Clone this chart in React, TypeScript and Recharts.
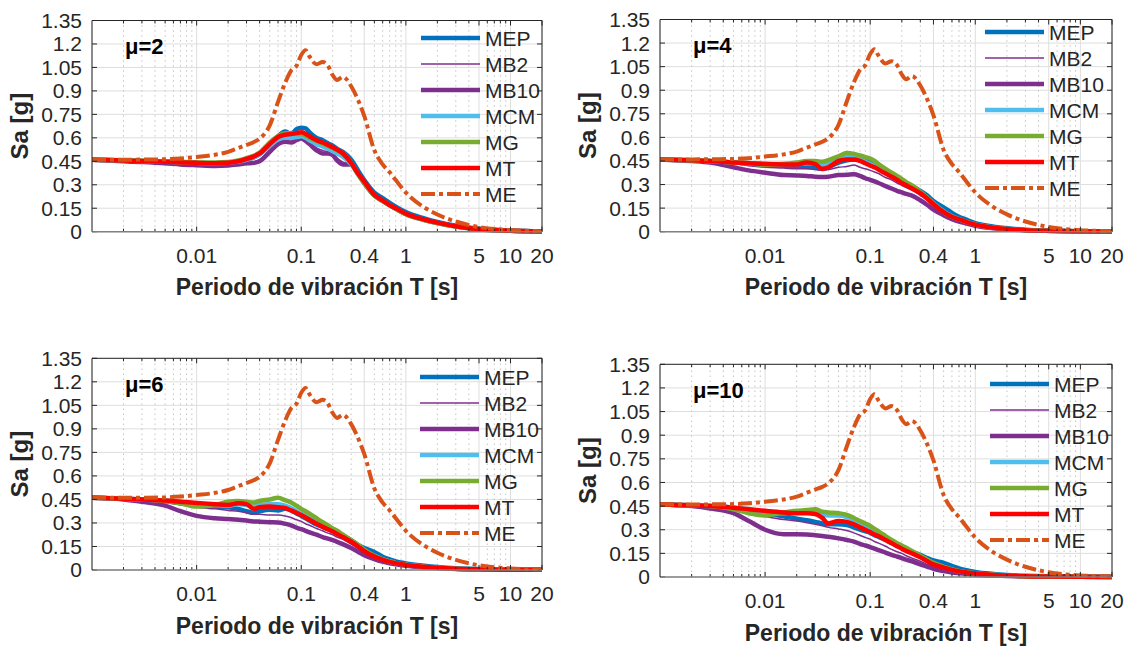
import React from 'react';
import { LineChart, Line, XAxis, YAxis, CartesianGrid, ReferenceLine, Legend } from 'recharts';

// ---------- data ----------
const periods = [0.001, 0.002, 0.003, 0.005, 0.007, 0.01, 0.015, 0.02, 0.025, 0.03, 0.035, 0.04, 0.05, 0.06, 0.07, 0.08, 0.09, 0.1, 0.11, 0.12, 0.14, 0.16, 0.18, 0.2, 0.22, 0.25, 0.3, 0.35, 0.4, 0.5, 0.6, 0.7, 0.8, 1, 1.5, 2, 3, 5, 10, 20];

const xTicks = [0.01, 0.1, 0.4, 1, 5, 10, 20];
const xTickLabels = ['0.01', '0.1', '0.4', '1', '5', '10', '20'];
const minorX = [0.002, 0.003, 0.004, 0.005, 0.006, 0.007, 0.008, 0.009, 0.02, 0.03, 0.04, 0.05, 0.06, 0.07, 0.08, 0.09, 0.2, 0.3, 0.5, 0.6, 0.7, 0.8, 0.9, 2, 3, 4, 6, 7, 8, 9];
const yTicks = [0, 0.15, 0.3, 0.45, 0.6, 0.75, 0.9, 1.05, 1.2, 1.35];
const yTickLabels = ['0', '0.15', '0.3', '0.45', '0.6', '0.75', '0.9', '1.05', '1.2', '1.35'];

const seriesNames = ['MEP', 'MB2', 'MB10', 'MCM', 'MG', 'MT', 'ME'];
const muLabels = ['μ=2', 'μ=4', 'μ=6', 'μ=10'];

const ME = [0.46, 0.46, 0.461, 0.463, 0.468, 0.478, 0.492, 0.51, 0.535, 0.555, 0.572, 0.595, 0.68, 0.83, 0.95, 1.03, 1.06, 1.13, 1.16, 1.12, 1.07, 1.085, 1.06, 1.0, 0.97, 0.99, 0.93, 0.84, 0.74, 0.52, 0.43, 0.38, 0.33, 0.25, 0.155, 0.11, 0.065, 0.03, 0.01, 0.003];

// mu = 2
const mu2MEP = [0.46, 0.455, 0.452, 0.447, 0.443, 0.44, 0.438, 0.44, 0.448, 0.46, 0.475, 0.495, 0.555, 0.61, 0.64, 0.625, 0.655, 0.665, 0.66, 0.635, 0.6, 0.585, 0.565, 0.55, 0.53, 0.51, 0.46, 0.39, 0.33, 0.25, 0.215, 0.185, 0.16, 0.125, 0.085, 0.062, 0.038, 0.019, 0.007, 0.002];
const mu2MB2 = [0.46, 0.452, 0.446, 0.44, 0.435, 0.43, 0.428, 0.43, 0.435, 0.44, 0.445, 0.46, 0.52, 0.565, 0.58, 0.575, 0.595, 0.6, 0.59, 0.57, 0.535, 0.52, 0.51, 0.5, 0.47, 0.445, 0.43, 0.36, 0.31, 0.235, 0.2, 0.17, 0.148, 0.113, 0.076, 0.056, 0.034, 0.016, 0.006, 0.002];
const mu2MB10 = [0.46, 0.45, 0.445, 0.437, 0.43, 0.425, 0.42, 0.423, 0.43, 0.437, 0.44, 0.45, 0.51, 0.56, 0.575, 0.57, 0.585, 0.595, 0.58, 0.56, 0.52, 0.5, 0.5, 0.49, 0.455, 0.43, 0.43, 0.37, 0.31, 0.235, 0.2, 0.17, 0.148, 0.113, 0.076, 0.056, 0.034, 0.016, 0.006, 0.002];
const mu2MCM = [0.46, 0.455, 0.452, 0.447, 0.443, 0.44, 0.438, 0.44, 0.448, 0.46, 0.475, 0.495, 0.55, 0.59, 0.6, 0.6, 0.605, 0.61, 0.6, 0.585, 0.56, 0.545, 0.53, 0.515, 0.5, 0.48, 0.43, 0.365, 0.31, 0.23, 0.195, 0.168, 0.146, 0.112, 0.075, 0.055, 0.033, 0.016, 0.006, 0.002];
const mu2MG = [0.46, 0.456, 0.453, 0.449, 0.446, 0.443, 0.442, 0.445, 0.455, 0.47, 0.485, 0.505, 0.57, 0.61, 0.63, 0.63, 0.625, 0.625, 0.615, 0.6, 0.58, 0.565, 0.55, 0.535, 0.52, 0.5, 0.44, 0.365, 0.31, 0.23, 0.195, 0.168, 0.146, 0.112, 0.075, 0.055, 0.033, 0.016, 0.006, 0.002];
const mu2MT = [0.46, 0.455, 0.452, 0.447, 0.443, 0.44, 0.438, 0.44, 0.45, 0.465, 0.48, 0.5, 0.56, 0.605, 0.62, 0.625, 0.63, 0.635, 0.625, 0.61, 0.585, 0.57, 0.555, 0.54, 0.525, 0.5, 0.44, 0.37, 0.32, 0.235, 0.2, 0.17, 0.15, 0.115, 0.078, 0.058, 0.035, 0.017, 0.006, 0.002];

// mu = 4
const mu4MEP = [0.46, 0.455, 0.45, 0.44, 0.435, 0.43, 0.42, 0.415, 0.412, 0.41, 0.4, 0.41, 0.44, 0.455, 0.46, 0.455, 0.45, 0.44, 0.425, 0.41, 0.38, 0.36, 0.34, 0.32, 0.305, 0.29, 0.26, 0.23, 0.195, 0.155, 0.12, 0.095, 0.08, 0.055, 0.032, 0.022, 0.013, 0.007, 0.003, 0.001];
const mu4MB2 = [0.46, 0.455, 0.45, 0.435, 0.42, 0.41, 0.405, 0.4, 0.4, 0.395, 0.39, 0.395, 0.41, 0.415, 0.425, 0.41, 0.4, 0.39, 0.38, 0.37, 0.345, 0.33, 0.31, 0.295, 0.28, 0.265, 0.23, 0.2, 0.16, 0.115, 0.09, 0.072, 0.06, 0.042, 0.024, 0.017, 0.01, 0.005, 0.002, 0.001];
const mu4MB10 = [0.46, 0.45, 0.44, 0.41, 0.39, 0.375, 0.36, 0.358, 0.355, 0.35, 0.348, 0.35, 0.36, 0.362, 0.365, 0.355, 0.34, 0.33, 0.32, 0.31, 0.29, 0.275, 0.26, 0.25, 0.24, 0.23, 0.2, 0.17, 0.14, 0.105, 0.08, 0.065, 0.055, 0.038, 0.022, 0.015, 0.009, 0.005, 0.002, 0.001];
const mu4MCM = [0.46, 0.455, 0.45, 0.44, 0.435, 0.43, 0.43, 0.43, 0.435, 0.435, 0.42, 0.43, 0.465, 0.475, 0.47, 0.46, 0.445, 0.43, 0.42, 0.405, 0.38, 0.36, 0.335, 0.315, 0.3, 0.285, 0.25, 0.215, 0.18, 0.13, 0.098, 0.08, 0.066, 0.046, 0.026, 0.018, 0.01, 0.006, 0.003, 0.001];
const mu4MG = [0.46, 0.455, 0.45, 0.44, 0.435, 0.425, 0.43, 0.44, 0.45, 0.45, 0.445, 0.455, 0.48, 0.5, 0.495, 0.485, 0.475, 0.465, 0.45, 0.43, 0.4, 0.375, 0.355, 0.335, 0.315, 0.295, 0.255, 0.215, 0.18, 0.125, 0.095, 0.078, 0.065, 0.045, 0.025, 0.018, 0.01, 0.006, 0.003, 0.001];
const mu4MT = [0.46, 0.455, 0.45, 0.44, 0.435, 0.43, 0.428, 0.428, 0.44, 0.43, 0.4, 0.41, 0.45, 0.46, 0.46, 0.45, 0.435, 0.42, 0.41, 0.395, 0.37, 0.35, 0.33, 0.31, 0.295, 0.275, 0.245, 0.21, 0.175, 0.125, 0.095, 0.078, 0.065, 0.045, 0.025, 0.018, 0.01, 0.006, 0.003, 0.001];

// mu = 6
const mu6MEP = [0.46, 0.455, 0.45, 0.44, 0.43, 0.415, 0.405, 0.4, 0.39, 0.375, 0.365, 0.375, 0.385, 0.38, 0.39, 0.38, 0.36, 0.345, 0.33, 0.315, 0.29, 0.275, 0.26, 0.25, 0.235, 0.22, 0.19, 0.16, 0.14, 0.115, 0.085, 0.068, 0.055, 0.042, 0.027, 0.019, 0.011, 0.006, 0.003, 0.001];
const mu6MB2 = [0.46, 0.452, 0.445, 0.43, 0.415, 0.4, 0.39, 0.38, 0.375, 0.365, 0.355, 0.355, 0.35, 0.35, 0.345, 0.335, 0.32, 0.31, 0.295, 0.285, 0.265, 0.25, 0.235, 0.225, 0.21, 0.195, 0.165, 0.135, 0.11, 0.08, 0.06, 0.048, 0.04, 0.03, 0.018, 0.013, 0.007, 0.004, 0.002, 0.001];
const mu6MB10 = [0.46, 0.45, 0.435, 0.41, 0.375, 0.345, 0.33, 0.325, 0.32, 0.315, 0.31, 0.308, 0.305, 0.303, 0.295, 0.285, 0.27, 0.26, 0.25, 0.24, 0.225, 0.21, 0.2, 0.19, 0.18, 0.165, 0.14, 0.115, 0.095, 0.07, 0.053, 0.043, 0.036, 0.027, 0.017, 0.012, 0.007, 0.004, 0.002, 0.001];
const mu6MCM = [0.46, 0.455, 0.45, 0.443, 0.435, 0.42, 0.415, 0.41, 0.42, 0.415, 0.405, 0.415, 0.42, 0.42, 0.41, 0.395, 0.375, 0.36, 0.345, 0.33, 0.3, 0.28, 0.265, 0.25, 0.235, 0.215, 0.185, 0.155, 0.125, 0.09, 0.068, 0.054, 0.044, 0.033, 0.021, 0.015, 0.008, 0.004, 0.002, 0.001];
const mu6MG = [0.46, 0.455, 0.45, 0.44, 0.425, 0.405, 0.415, 0.435, 0.44, 0.435, 0.43, 0.44, 0.45, 0.46, 0.445, 0.43, 0.41, 0.39, 0.375, 0.36, 0.33, 0.305, 0.285, 0.265, 0.25, 0.225, 0.19, 0.16, 0.13, 0.09, 0.068, 0.054, 0.044, 0.033, 0.021, 0.015, 0.008, 0.004, 0.002, 0.001];
const mu6MT = [0.46, 0.455, 0.45, 0.443, 0.435, 0.428, 0.42, 0.415, 0.425, 0.42, 0.39, 0.4, 0.405, 0.4, 0.395, 0.38, 0.365, 0.35, 0.335, 0.32, 0.295, 0.275, 0.26, 0.245, 0.23, 0.21, 0.18, 0.15, 0.12, 0.085, 0.065, 0.052, 0.043, 0.032, 0.02, 0.014, 0.008, 0.004, 0.002, 0.001];

// mu = 10
const mu10MEP = [0.46, 0.455, 0.45, 0.44, 0.425, 0.405, 0.385, 0.37, 0.36, 0.35, 0.34, 0.335, 0.335, 0.33, 0.315, 0.3, 0.29, 0.28, 0.265, 0.255, 0.235, 0.215, 0.2, 0.185, 0.17, 0.16, 0.14, 0.12, 0.105, 0.09, 0.07, 0.055, 0.045, 0.032, 0.019, 0.013, 0.008, 0.004, 0.002, 0.001];
const mu10MB2 = [0.46, 0.452, 0.445, 0.425, 0.405, 0.385, 0.365, 0.355, 0.345, 0.335, 0.325, 0.315, 0.305, 0.295, 0.28, 0.265, 0.25, 0.24, 0.225, 0.215, 0.195, 0.175, 0.16, 0.15, 0.135, 0.12, 0.1, 0.08, 0.065, 0.048, 0.036, 0.029, 0.024, 0.018, 0.011, 0.008, 0.005, 0.002, 0.001, 0.0005];
const mu10MB10 = [0.46, 0.45, 0.435, 0.405, 0.355, 0.3, 0.272, 0.272, 0.27, 0.265, 0.26, 0.255, 0.245, 0.235, 0.225, 0.21, 0.2, 0.19, 0.18, 0.17, 0.155, 0.14, 0.13, 0.12, 0.11, 0.1, 0.08, 0.065, 0.052, 0.038, 0.029, 0.024, 0.02, 0.015, 0.009, 0.006, 0.004, 0.002, 0.001, 0.0005];
const mu10MCM = [0.46, 0.455, 0.45, 0.44, 0.43, 0.41, 0.405, 0.415, 0.42, 0.41, 0.4, 0.39, 0.39, 0.38, 0.36, 0.34, 0.325, 0.31, 0.295, 0.28, 0.255, 0.23, 0.21, 0.195, 0.18, 0.16, 0.13, 0.105, 0.085, 0.063, 0.047, 0.037, 0.031, 0.023, 0.014, 0.009, 0.005, 0.003, 0.001, 0.0005];
const mu10MG = [0.46, 0.455, 0.45, 0.43, 0.405, 0.39, 0.41, 0.42, 0.425, 0.43, 0.415, 0.41, 0.405, 0.395, 0.375, 0.355, 0.34, 0.325, 0.305, 0.29, 0.26, 0.235, 0.215, 0.2, 0.185, 0.165, 0.135, 0.11, 0.09, 0.065, 0.048, 0.038, 0.031, 0.023, 0.014, 0.009, 0.005, 0.003, 0.001, 0.0005];
const mu10MT = [0.46, 0.455, 0.45, 0.44, 0.43, 0.42, 0.41, 0.405, 0.405, 0.4, 0.375, 0.34, 0.355, 0.35, 0.335, 0.315, 0.3, 0.285, 0.27, 0.26, 0.235, 0.215, 0.195, 0.18, 0.165, 0.15, 0.125, 0.1, 0.08, 0.06, 0.045, 0.036, 0.03, 0.022, 0.013, 0.009, 0.005, 0.003, 0.001, 0.0005];

const panelSeries: Record<string, number[]>[] = [
  { MEP: mu2MEP, MB2: mu2MB2, MB10: mu2MB10, MCM: mu2MCM, MG: mu2MG, MT: mu2MT, ME },
  { MEP: mu4MEP, MB2: mu4MB2, MB10: mu4MB10, MCM: mu4MCM, MG: mu4MG, MT: mu4MT, ME },
  { MEP: mu6MEP, MB2: mu6MB2, MB10: mu6MB10, MCM: mu6MCM, MG: mu6MG, MT: mu6MT, ME },
  { MEP: mu10MEP, MB2: mu10MB2, MB10: mu10MB10, MCM: mu10MCM, MG: mu10MG, MT: mu10MT, ME },
];

// ---------- styles ----------
const FONT = '"Liberation Sans", Arial, Helvetica, sans-serif';
const TXT = '#262626';
const TICK_FS = 21;
const seriesStyle: Record<string, { color: string; width: number; dash?: string }> = {
  MEP: { color: '#0072BD', width: 4.5 },
  MB2: { color: '#7E2F8E', width: 1.5 },
  MB10: { color: '#7E2F8E', width: 4.5 },
  MCM: { color: '#4DBEEE', width: 4.5 },
  MG: { color: '#77AC30', width: 4.5 },
  MT: { color: '#FF0000', width: 4.5 },
  ME: { color: '#D95319', width: 4, dash: '14 4 4 4' },
};

const layouts = [
  { divLeft: 0, divTop: 0, w: 560, h: 320, plotLeft: 92, plotRight: 542, plotTop: 20.5, plotBottom: 231.7, legendDx: -121, legendDy: 17.8 },
  { divLeft: 560, divTop: 0, w: 569, h: 320, plotLeft: 660, plotRight: 1112, plotTop: 19.5, plotBottom: 231.7, legendDx: -127.5, legendDy: 12.8 },
  { divLeft: 0, divTop: 320, w: 560, h: 326, plotLeft: 92, plotRight: 542, plotTop: 358.3, plotBottom: 570, legendDx: -122, legendDy: 19 },
  { divLeft: 560, divTop: 320, w: 569, h: 326, plotLeft: 660, plotRight: 1112, plotTop: 364.3, plotBottom: 577, legendDx: -122, legendDy: 19.7 },
];

const Y_W = 60;
const X_H = 30;
const X_MIN = 0.001;
const X_MAX = 20;
const Y_MAX = 1.35;
const TICK_X_FACTOR = 1.116; // ~5px along log axis
const MAJOR_TICK_Y = 0.032;
const MINOR_TICK_Y = 0.019;

function buildRows(series: Record<string, number[]>) {
  return periods.map((T, i) => {
    const row: Record<string, number> = { T };
    seriesNames.forEach((n) => {
      row[n] = series[n][i];
    });
    return row;
  });
}

function Panel({ idx }: { idx: number }) {
  const L = layouts[idx];
  const data = buildRows(panelSeries[idx]);
  const margin = {
    top: L.plotTop - L.divTop,
    left: L.plotLeft - L.divLeft - Y_W,
    right: L.divLeft + L.w - L.plotRight,
    bottom: L.divTop + L.h - L.plotBottom - X_H,
  };
  const legendLeft = L.plotRight + L.legendDx - L.divLeft;
  const legendTop = L.plotTop - L.divTop + L.legendDy;

  const xTitle = (p: any) => {
    const vb = p.viewBox || {};
    return (
      <text x={vb.x + vb.width / 2} y={vb.y + 63.5} textAnchor="middle" fontFamily={FONT} fontWeight="bold" fontSize={23} fill={TXT}>
        Periodo de vibración T [s]
      </text>
    );
  };
  const yTitle = (p: any) => {
    const vb = p.viewBox || {};
    const bx = vb.x + vb.width - 64;
    const cy = vb.y + vb.height / 2;
    return (
      <g>
        <text transform={`translate(${bx},${cy}) rotate(-90)`} textAnchor="middle" fontFamily={FONT} fontWeight="bold" fontSize={24} fill={TXT}>
          Sa [g]
        </text>
        <text x={vb.x + vb.width + 33} y={vb.y + 33.5} fontFamily={FONT} fontWeight="bold" fontSize={22} fill="#000">
          {muLabels[idx]}
        </text>
      </g>
    );
  };

  const legendContent = () => (
    <div style={{ position: 'absolute', left: legendLeft, top: legendTop, width: 0, height: 0 }}>
      {seriesNames.map((n, i) => {
        const s = seriesStyle[n];
        return (
          <svg key={n} width={130} height={26} style={{ position: 'absolute', left: 0, top: i * 26 - 13, overflow: 'visible' }}>
            <line x1={0} x2={59} y1={13} y2={13} stroke={s.color} strokeWidth={s.width} strokeDasharray={s.dash} />
            <text x={64} y={20.5} fontFamily={FONT} fontSize={21} fill={TXT}>
              {n}
            </text>
          </svg>
        );
      })}
    </div>
  );

  return (
    <div style={{ position: 'absolute', left: L.divLeft, top: L.divTop, width: L.w, height: L.h }}>
      <LineChart width={L.w} height={L.h} data={data} margin={margin}>
        <CartesianGrid stroke="#dedede" strokeWidth={1} />
        {minorX.map((v) => (
          <ReferenceLine key={`mg${v}`} x={v} stroke="#c4c4c4" strokeWidth={1} strokeDasharray="1.5 3.5" ifOverflow="visible" />
        ))}
        <XAxis
          dataKey="T"
          type="number"
          scale="log"
          domain={[X_MIN, X_MAX]}
          allowDataOverflow
          ticks={xTicks}
          interval={0}
          tickFormatter={(v: number) => xTickLabels[xTicks.indexOf(v)] ?? String(v)}
          tick={{ fill: TXT, fontSize: TICK_FS, fontFamily: FONT }}
          tickLine={false}
          tickSize={6}
          tickMargin={10.3}
          axisLine={{ stroke: '#808080', strokeWidth: 1.5 }}
          height={X_H}
          label={xTitle}
        />
        <YAxis
          type="number"
          domain={[0, Y_MAX]}
          ticks={yTicks}
          interval={0}
          tickFormatter={(v: number) => yTickLabels[yTicks.indexOf(v)] ?? String(v)}
          tick={{ fill: TXT, fontSize: TICK_FS, fontFamily: FONT }}
          tickLine={false}
          tickSize={6}
          tickMargin={4}
          axisLine={{ stroke: TXT, strokeWidth: 1 }}
          width={Y_W}
          label={yTitle}
        />
        {seriesNames.map((n) => {
          const s = seriesStyle[n];
          return (
            <Line
              key={n}
              dataKey={n}
              name={n}
              type="monotone"
              stroke={s.color}
              strokeWidth={s.width}
              strokeDasharray={s.dash}
              dot={false}
              activeDot={false}
              isAnimationActive={false}
            />
          );
        })}
        {/* box */}
        <ReferenceLine y={Y_MAX} stroke={TXT} strokeWidth={1} ifOverflow="visible" />
        <ReferenceLine x={X_MAX} stroke={TXT} strokeWidth={1} ifOverflow="visible" />
        {/* inward ticks */}
        {minorX.map((v) => (
          <ReferenceLine key={`mb${v}`} segment={[{ x: v, y: 0 }, { x: v, y: MINOR_TICK_Y }]} stroke={TXT} strokeWidth={1} ifOverflow="visible" />
        ))}
        {minorX.map((v) => (
          <ReferenceLine key={`mt${v}`} segment={[{ x: v, y: Y_MAX }, { x: v, y: Y_MAX - MINOR_TICK_Y }]} stroke={TXT} strokeWidth={1} ifOverflow="visible" />
        ))}
        {xTicks.map((v) => (
          <ReferenceLine key={`xb${v}`} segment={[{ x: v, y: 0 }, { x: v, y: MAJOR_TICK_Y }]} stroke={TXT} strokeWidth={1} ifOverflow="visible" />
        ))}
        {xTicks.map((v) => (
          <ReferenceLine key={`xt${v}`} segment={[{ x: v, y: Y_MAX }, { x: v, y: Y_MAX - MAJOR_TICK_Y }]} stroke={TXT} strokeWidth={1} ifOverflow="visible" />
        ))}
        {yTicks.map((v) => (
          <ReferenceLine key={`yl${v}`} segment={[{ x: X_MIN, y: v }, { x: X_MIN * TICK_X_FACTOR, y: v }]} stroke={TXT} strokeWidth={1} ifOverflow="visible" />
        ))}
        {yTicks.map((v) => (
          <ReferenceLine key={`yr${v}`} segment={[{ x: X_MAX / TICK_X_FACTOR, y: v }, { x: X_MAX, y: v }]} stroke={TXT} strokeWidth={1} ifOverflow="visible" />
        ))}
        <Legend content={legendContent} wrapperStyle={{ left: 0, top: 0, width: 0, height: 0, overflow: 'visible' }} />
      </LineChart>
    </div>
  );
}

export default function App() {
  return (
    <div style={{ position: 'absolute', left: 0, top: 0, width: 1129, height: 646, background: '#fff', overflow: 'hidden' }}>
      {layouts.map((_, i) => (
        <Panel key={i} idx={i} />
      ))}
    </div>
  );
}
